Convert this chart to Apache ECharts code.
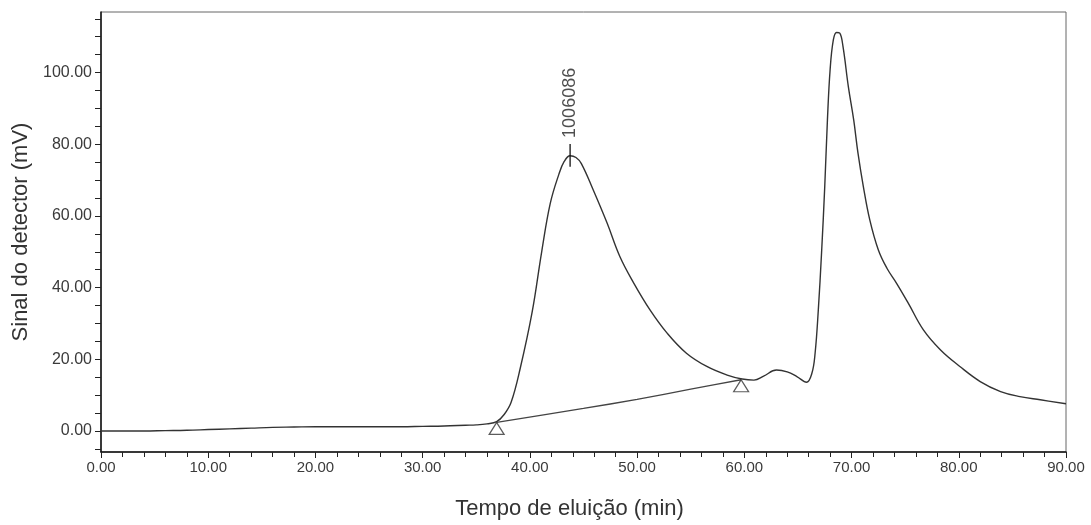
<!DOCTYPE html>
<html>
<head>
<meta charset="utf-8">
<script src="https://cdn.jsdelivr.net/npm/echarts@6/dist/echarts.min.js"></script>
<style>
html,body{margin:0;padding:0;background:#fff;}
#chart{width:1091px;height:525px;}
</style>
</head>
<body>
<div id="chart"></div>
<script>
// Elution time (min) and detector signal (mV)
const timeMin = [0, 2, 4, 6, 8, 10, 12, 14, 16, 18, 20, 22, 24, 26, 28, 30, 32, 34, 35, 36, 36.9,
  37.6, 38.25, 39.1, 40.2, 41.1, 41.9, 42.7, 43.2, 43.75, 44.3, 44.8, 45.9, 47.2, 48.4, 49.7, 51.2,
  52.8, 54.6, 56.5, 58.4, 59.8, 60.9, 61.8, 63.0, 64.0, 64.9, 65.8, 66.3, 66.6, 66.9, 67.2, 67.5,
  67.75, 68.0, 68.3, 68.6, 68.9, 69.2, 69.7, 70.2, 70.6, 71.1, 71.7, 72.5, 73.3, 74.2, 75.3, 76.7,
  78.3, 80.1, 82.0, 83.9, 85.7, 87.6, 90];
const signalMV = [0.0, 0.0, 0.0, 0.1, 0.2, 0.4, 0.6, 0.8, 1.0, 1.1, 1.2, 1.2, 1.2, 1.2, 1.2, 1.3, 1.4, 1.6, 1.7, 2.0, 2.6,
  4.6, 8.0, 17.5, 33.0, 50.0, 63.5, 71.6, 75.2, 76.8, 76.3, 74.6, 67.3, 58.0, 48.6, 41.2, 33.8,
  27.3, 21.7, 18.0, 15.6, 14.5, 14.2, 15.3, 17.0, 16.5, 15.2, 13.6, 16.1, 21.7, 33.8, 49.6, 68.2,
  86.8, 100.8, 109.1, 111.2, 111.0, 107.3, 96.1, 86.8, 77.5, 68.2, 58.9, 50.5, 45.4, 41.2, 35.6, 28.2,
  22.6, 18.0, 13.8, 11.0, 9.6, 8.7, 7.6];

// Integration baseline (drop line between the two triangle markers)
const baselineTime = [36.9, 45, 50, 55, 59.7];
const baselineMV = [2.4, 6.3, 8.8, 11.7, 14.3];

// Peak annotation
const peakTime = 43.75;
const peakTickMV = [73.7, 80.1];
const peakLabel = '1006086';

// Axis ticks
const xLabelStep = 10;
const yLabelValues = [0, 20, 40, 60, 80, 100];
const yTickValues = [-5, 0, 5, 10, 15, 20, 25, 30, 35, 40, 45, 50, 55, 60, 65, 70, 75, 80, 85, 90, 95, 100, 105, 110, 115];

const curve = timeMin.map((t, i) => [t, signalMV[i]]);
const base = baselineTime.map((t, i) => [t, baselineMV[i]]);
const triangles = [[baselineTime[0], baselineMV[0]], [baselineTime[baselineTime.length - 1], baselineMV[baselineMV.length - 1]]];

const FONT = '"Liberation Sans", Arial, sans-serif';
const chart = echarts.init(document.getElementById('chart'), null, {renderer: 'canvas'});
chart.setOption({
  animation: false,
  backgroundColor: '#ffffff',
  grid: {left: 101, right: 25, top: 12, bottom: 73, show: true, borderColor: '#666', borderWidth: 1, backgroundColor: 'transparent'},
  xAxis: {
    type: 'value', min: 0, max: 90, interval: xLabelStep,
    name: 'Tempo de eluição (min)', nameLocation: 'middle', nameGap: 46,
    nameTextStyle: {fontFamily: FONT, fontSize: 22, color: '#333', padding: [0, 28, 0, 0]},
    axisLine: {show: true, onZero: false, lineStyle: {color: '#111', width: 1.5}},
    axisTick: {show: true, inside: false, length: 6, lineStyle: {color: '#222'}},
    minorTick: {show: true, splitNumber: 5, length: 5, lineStyle: {color: '#222'}},
    splitLine: {show: false},
    axisLabel: {fontFamily: FONT, fontSize: 15, color: '#3a3a3a', margin: 8, formatter: v => v.toFixed(2)}
  },
  yAxis: {
    type: 'value', min: -5.86, max: 116.9,
    name: 'Sinal do detector (mV)', nameLocation: 'middle', nameGap: 68,
    nameTextStyle: {fontFamily: FONT, fontSize: 22, color: '#333'},
    axisLine: {show: true, onZero: false, lineStyle: {color: '#111', width: 1.5}},
    axisTick: {show: true, inside: false, length: 6, customValues: yTickValues, lineStyle: {color: '#222'}},
    splitLine: {show: false},
    axisLabel: {fontFamily: FONT, fontSize: 16, color: '#3a3a3a', margin: 9, customValues: yLabelValues, formatter: v => v.toFixed(2)}
  },
  series: [
    {
      type: 'line', data: curve, showSymbol: false, smooth: 0.4,
      lineStyle: {color: '#333', width: 1.4}, z: 3
    },
    {
      type: 'line', data: base, showSymbol: false, smooth: 0.2,
      lineStyle: {color: '#444', width: 1.3}, z: 2
    },
    {
      type: 'line', data: peakTickMV.map(v => [peakTime, v]), showSymbol: false,
      lineStyle: {color: '#111', width: 1.3}, z: 4
    },
    {
      type: 'scatter', data: [[peakTime, peakTickMV[1]]], symbolSize: 0,
      label: {show: true, formatter: peakLabel, position: 'top', distance: 6, rotate: 90,
        align: 'left', verticalAlign: 'middle', fontFamily: FONT, fontSize: 18, color: '#222'},
      z: 5
    },
    {
      type: 'scatter', data: triangles, symbol: 'triangle', symbolSize: [15, 12], symbolOffset: [0, 6],
      itemStyle: {color: 'rgba(255,255,255,0)', borderColor: '#333', borderWidth: 1.2}, z: 6
    }
  ]
});
</script>
</body>
</html>
